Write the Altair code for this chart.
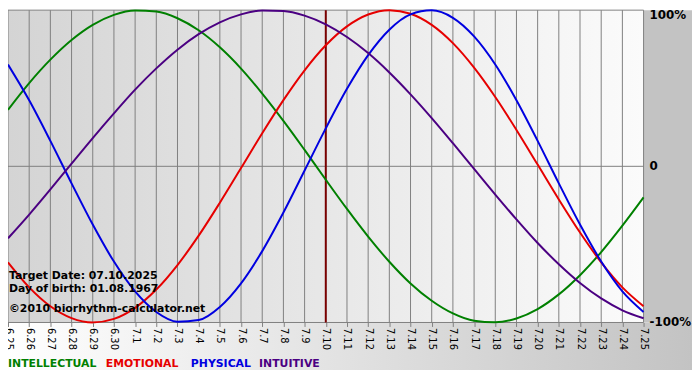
import altair as alt
import pandas as pd

# ---- data ----
days = ["6.25", "6.26", "6.27", "6.28", "6.29", "6.30",
        "7.1", "7.2", "7.3", "7.4", "7.5", "7.6", "7.7", "7.8", "7.9", "7.10",
        "7.11", "7.12", "7.13", "7.14", "7.15", "7.16", "7.17", "7.18", "7.19",
        "7.20", "7.21", "7.22", "7.23", "7.24", "7.25"]
target_day = "7.10"

series_names = ["INTELLECTUAL", "EMOTIONAL", "PHYSICAL", "INTUITIVE"]
series_colors = ["#008000", "#e60000", "#0000e0", "#4b0082"]

intellectual = [0.362, 0.533, 0.683, 0.809, 0.906, 0.970, 0.998, 0.991, 0.948, 0.871,
                0.762, 0.626, 0.466, 0.291, 0.105, -0.086, -0.273, -0.450, -0.611, -0.750,
                -0.861, -0.942, -0.989, -0.999, -0.974, -0.914, -0.820, -0.697, -0.549,
                -0.380, -0.199]
emotional = [-0.615, -0.775, -0.896, -0.972, -1.000, -0.977, -0.906, -0.789, -0.632, -0.444,
             -0.233, -0.011, 0.212, 0.424, 0.615, 0.775, 0.896, 0.972, 1.000, 0.977,
             0.906, 0.789, 0.632, 0.444, 0.233, 0.011, -0.212, -0.424, -0.615, -0.775,
             -0.896]
physical = [0.652, 0.423, 0.163, -0.109, -0.373, -0.610, -0.801, -0.933, -0.995, -0.984,
            -0.900, -0.749, -0.543, -0.296, -0.027, 0.243, 0.496, 0.712, 0.875, 0.973,
            0.999, 0.951, 0.832, 0.652, 0.423, 0.163, -0.109, -0.373, -0.610, -0.801,
            -0.933]
intuitive = [-0.461, -0.309, -0.148, 0.017, 0.181, 0.339, 0.491, 0.627, 0.747, 0.846,
             0.922, 0.973, 0.998, 0.995, 0.965, 0.909, 0.828, 0.725, 0.601, 0.461,
             0.309, 0.148, -0.017, -0.181, -0.340, -0.491, -0.627, -0.747, -0.846,
             -0.922, -0.973]

y_ticks = [1, 0, -1]
y_tick_labels = ["100%", "0", "-100%"]

info_lines = ["Target Date: 07.10.2025", "Day of birth: 01.08.1967",
              "\u00a92010 biorhythm-calculator.net"]

# ---- layout ----
W, H = 643, 316
RIGHT = 49
BOTTOM = 48
GRID = "#808080"
FONT = "DejaVu Sans"

rows = []
for name, vals in zip(series_names, [intellectual, emotional, physical, intuitive]):
    for i, (d, v) in enumerate(zip(days, vals)):
        rows.append({"idx": i, "day": d, "series": name, "value": v})
df = pd.DataFrame(rows)

xscale = alt.Scale(domain=days, type="point", padding=0)
yscale = alt.Scale(domain=[-1, 1], nice=False, zero=False)
xaxis = alt.Axis(title=None, labelAngle=90, labelAlign="left", labelBaseline="middle",
                 labelFont=FONT, labelFontSize=10, labelColor="black", labelPadding=1,
                 tickSize=4, tickColor=GRID, domain=False, grid=False, labelOverlap=False,
                 zindex=1)

one = pd.DataFrame({"a": [0]})

plot_bg = alt.Chart(one).mark_rect(
    fill=alt.LinearGradient(gradient="linear", x1=0, x2=1, y1=0, y2=0,
                            stops=[alt.GradientStop(color="#d4d4d4", offset=0),
                                   alt.GradientStop(color="#fbfbfb", offset=1)])
).encode(x=alt.value(0), x2=alt.value(W), y=alt.value(0), y2=alt.value(H))

right_bg = alt.Chart(one).mark_rect(fill="#c3c3c3").encode(
    x=alt.value(W), x2=alt.value(W + RIGHT), y=alt.value(0), y2=alt.value(H))

bottom_bg = alt.Chart(one).mark_rect(
    fill=alt.LinearGradient(gradient="linear", x1=0, x2=1, y1=0, y2=0,
                            stops=[alt.GradientStop(color="#ffffff", offset=0),
                                   alt.GradientStop(color="#c3c3c3", offset=1)])
).encode(x=alt.value(0), x2=alt.value(W + RIGHT), y=alt.value(H), y2=alt.value(H + BOTTOM))

vgrid = alt.Chart(pd.DataFrame({"day": days})).mark_rule(color=GRID, strokeWidth=1).encode(
    x=alt.X("day:O", scale=xscale, axis=xaxis))

hgrid = alt.Chart(pd.DataFrame({"v": y_ticks})).mark_rule(color=GRID, strokeWidth=1).encode(
    y=alt.Y("v:Q", scale=yscale, axis=None))

target = alt.Chart(pd.DataFrame({"day": [target_day]})).mark_rule(
    color="#7a0000", strokeWidth=2).encode(x=alt.X("day:O", scale=xscale, axis=xaxis))

lines = alt.Chart(df).mark_line(strokeWidth=2, interpolate="monotone").encode(
    x=alt.X("day:O", scale=xscale, axis=xaxis),
    y=alt.Y("value:Q", scale=yscale, axis=None),
    color=alt.Color("series:N", scale=alt.Scale(domain=series_names, range=series_colors),
                    legend=None),
    order=alt.Order("idx:Q"),
)

layers = [plot_bg, right_bg, bottom_bg, vgrid, hgrid, target, lines]

info_y = [276, 290, 310]
for txt, yy in zip(info_lines, info_y):
    layers.append(alt.Chart(one).mark_text(
        text=txt, align="left", baseline="alphabetic", font=FONT, fontWeight="bold",
        fontSize=11, color="black").encode(x=alt.value(1), y=alt.value(yy * H / 321)))

for v, lab in zip(y_ticks, y_tick_labels):
    dy = 5 if v == 1 else 0
    layers.append(alt.Chart(pd.DataFrame({"v": [v]})).mark_text(
        text=lab, align="left", baseline="middle", font=FONT, fontWeight="bold",
        fontSize=12, color="black", dy=dy).encode(
        x=alt.value(W + 6), y=alt.Y("v:Q", scale=yscale, axis=None)))

legend_x = [0, 99, 185, 254]
for name, col, lx in zip(series_names, series_colors, legend_x):
    layers.append(alt.Chart(one).mark_text(
        text=name, align="left", baseline="alphabetic", font=FONT, fontWeight="bold",
        fontSize=11, color=col).encode(x=alt.value(lx), y=alt.value(H + 45)))

chart = alt.layer(*layers).properties(
    width=W, height=H,
    autosize=alt.AutoSizeParams(type="none"),
    padding={"left": 0, "top": 0, "right": RIGHT, "bottom": 56},
    background="white",
).configure_view(stroke=None)

chart.save("out.html", embed_options={"renderer": "svg", "actions": False})
